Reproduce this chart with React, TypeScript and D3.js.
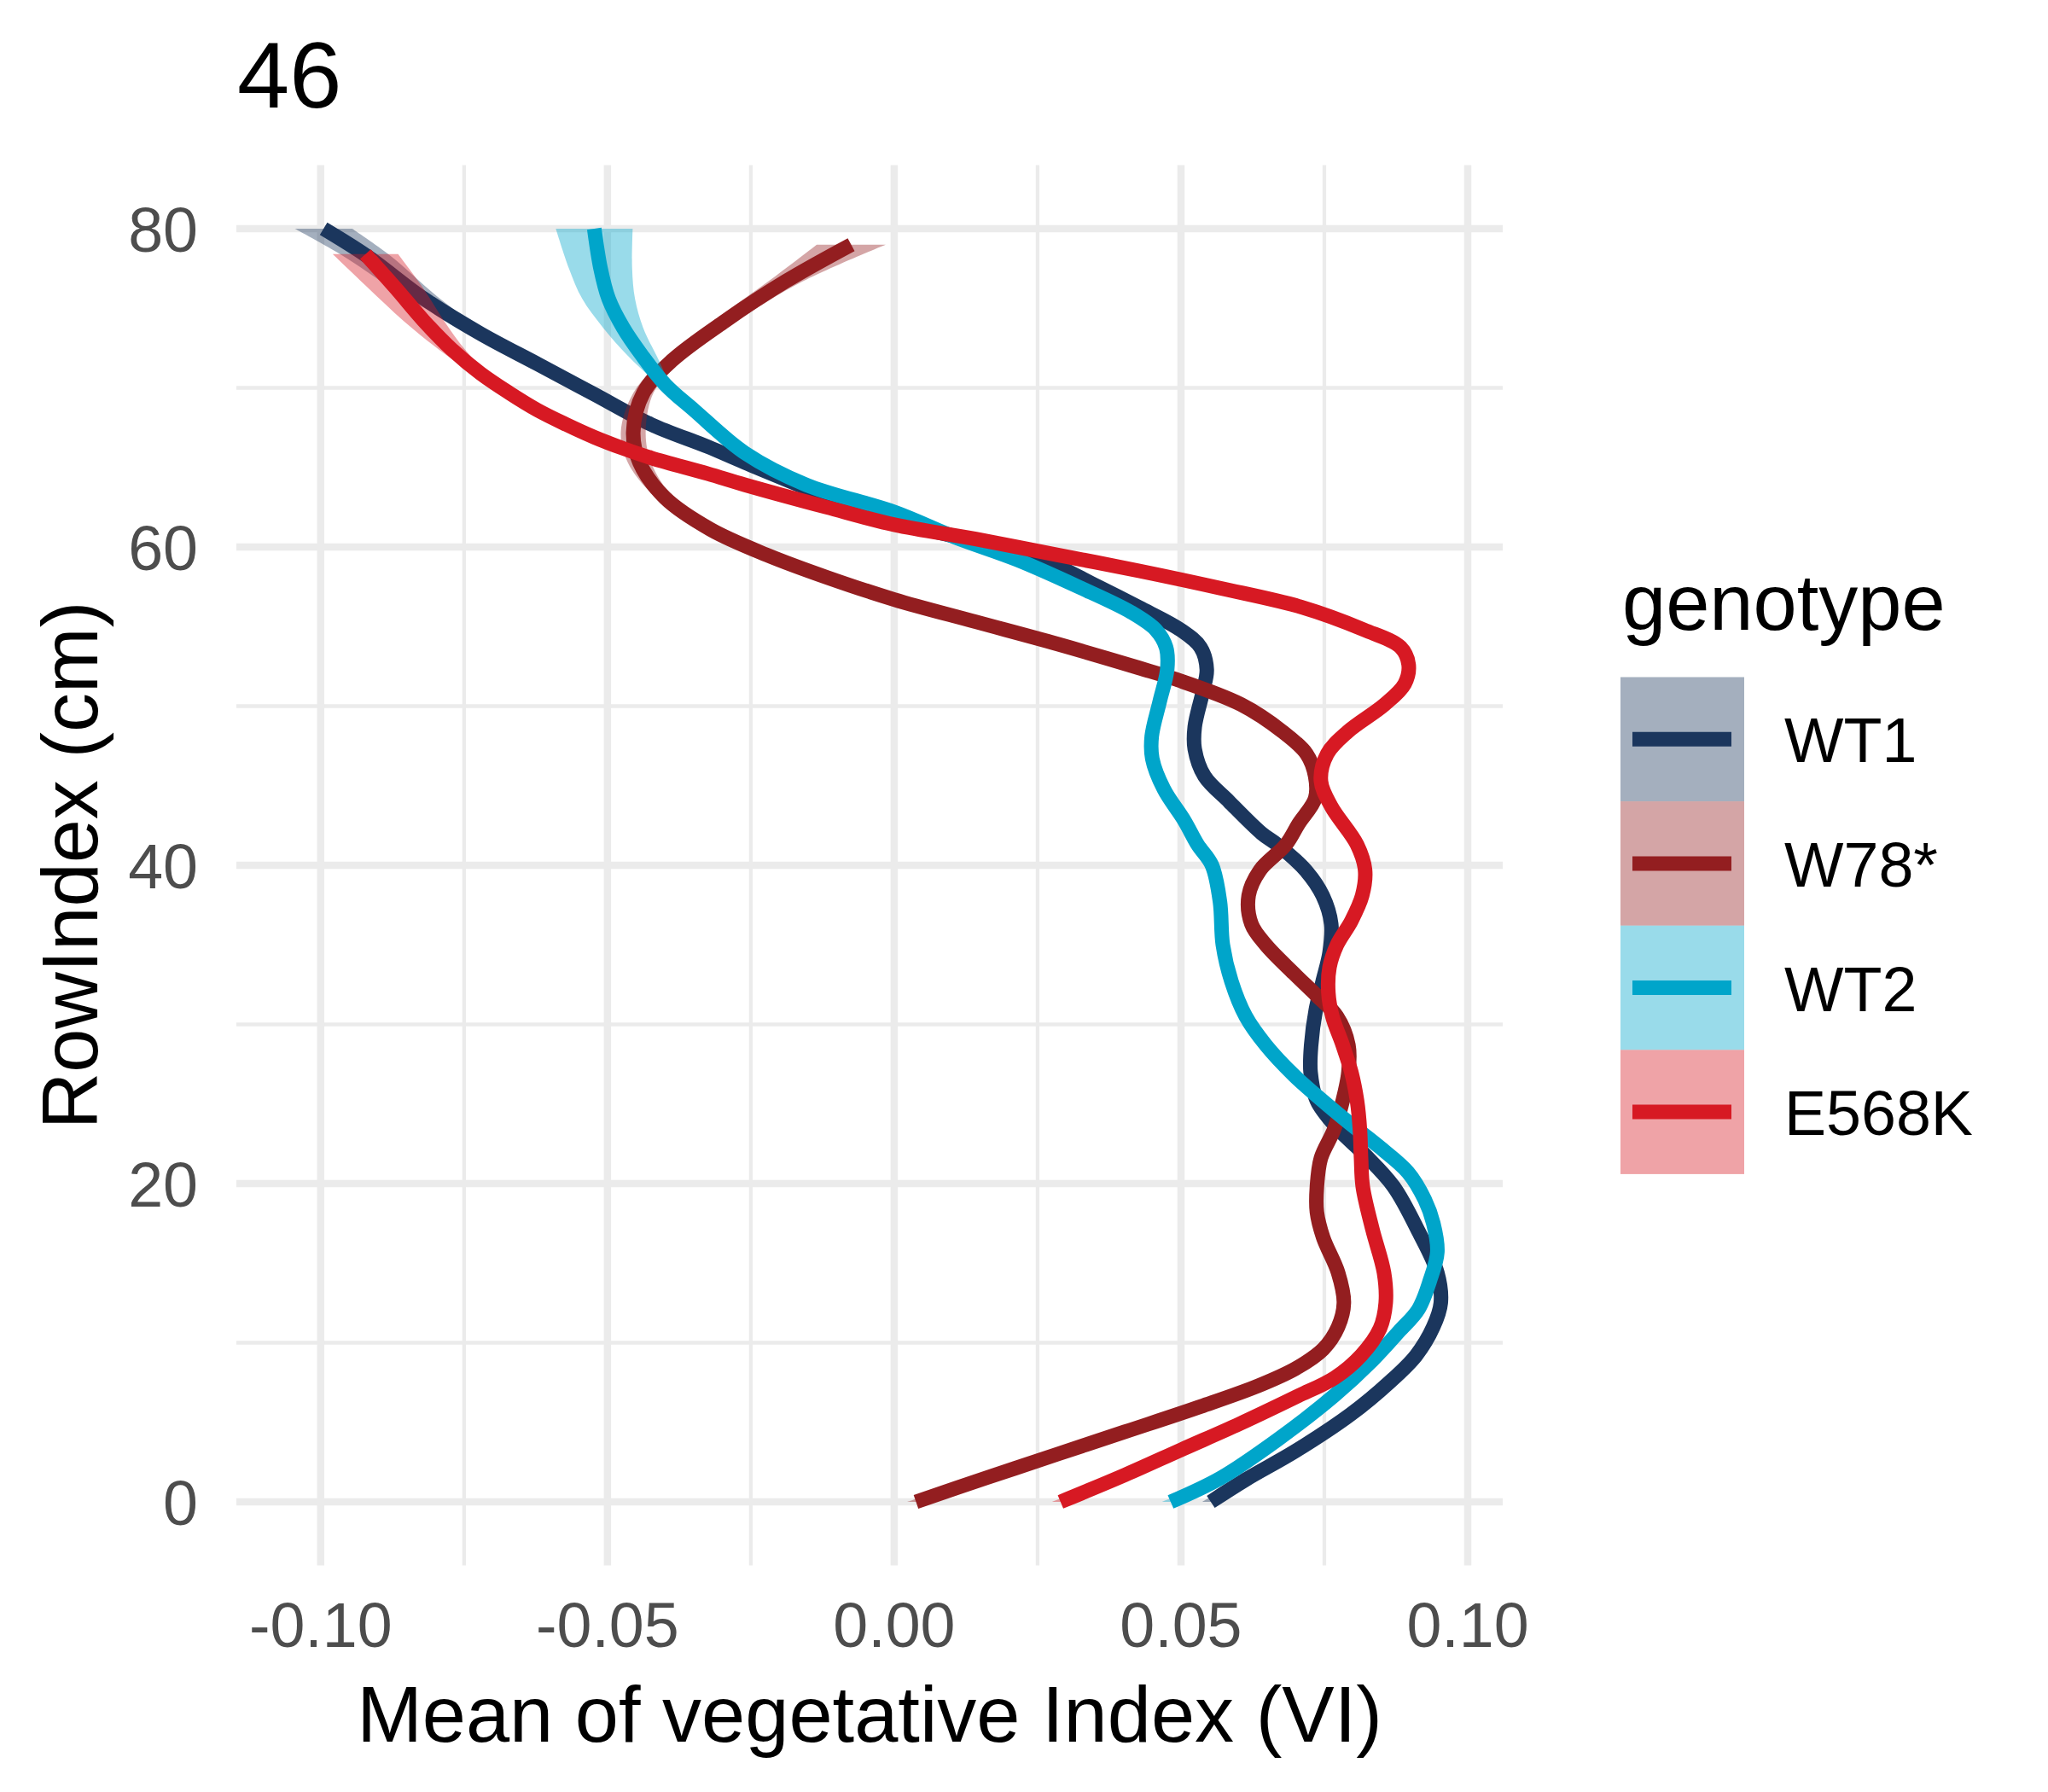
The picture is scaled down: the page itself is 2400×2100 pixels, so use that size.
import React from 'react';
import * as d3 from 'd3';

const W = 2400;
const H = 2100;

const genotypes = ['WT1', 'W78*', 'WT2', 'E568K'];
const lineColors = ['#1B365D', '#931E20', '#00A5CA', '#D71923'];

// WT1
const wt1Row = [0, 1.4, 3.2, 5.5, 7.5, 9.2, 11, 12.5, 14.4, 17, 19.8, 21.8, 23.5, 25.2, 27, 28.7, 30.9, 32.7, 34.5, 36.3, 38.1, 39.7, 41.3, 42, 44, 45.6, 47.3, 48.7, 50.9, 52.3, 53.7, 54.8, 56.2, 57.5, 59.35, 60.5, 61.5, 62.7, 65.3, 66.3, 67.7, 69.6, 71.5, 73.4, 75.6, 78.3, 80];
const wt1Vi = [0.0552, 0.0613, 0.0700, 0.0796, 0.0863, 0.0910, 0.0940, 0.0953, 0.0947, 0.0914, 0.0871, 0.0821, 0.0772, 0.0737, 0.0726, 0.0727, 0.0735, 0.0747, 0.0759, 0.0762, 0.0747, 0.0717, 0.0668, 0.0641, 0.0584, 0.0541, 0.0524, 0.0524, 0.0538, 0.0545, 0.0534, 0.0499, 0.0427, 0.0356, 0.0249, 0.0125, 0.0015, -0.0082, -0.0260, -0.0325, -0.0424, -0.0523, -0.0622, -0.0721, -0.0820, -0.0920, -0.0995];
const wt1SeRow = [0, 3, 10, 60, 70, 73, 75.6, 78, 80];
const wt1SeHalf = [0.0015, 0.0006, 0.0003, 0.0003, 0.0005, 0.0009, 0.0028, 0.004, 0.005];

// W78*
const w78Row = [0, 1.5, 3, 4.4, 6, 7.3, 8.4, 9.6, 11, 12.5, 14.4, 16.6, 18.2, 19.8, 21.6, 23.4, 25.2, 27, 28.7, 30.5, 31.8, 33.2, 35, 36.3, 38.1, 39.7, 41.3, 42.6, 44.2, 45.6, 47, 48.4, 50.1, 51.7, 52.4, 53.9, 55.3, 56.7, 58.1, 59.5, 61.1, 63.1, 65.3, 67.2, 69.7, 71.7, 74.2, 76.7, 79];
const w78Vi = [0.0038, 0.0160, 0.0285, 0.0402, 0.0535, 0.0635, 0.0701, 0.0748, 0.0774, 0.0784, 0.0774, 0.0748, 0.0737, 0.0737, 0.0744, 0.0767, 0.0782, 0.0792, 0.0792, 0.0772, 0.0737, 0.0697, 0.0648, 0.0623, 0.0618, 0.0638, 0.0683, 0.0705, 0.0734, 0.0734, 0.0719, 0.0677, 0.0605, 0.0490, 0.0427, 0.0285, 0.0142, 0.0, -0.0118, -0.0222, -0.0320, -0.0400, -0.0444, -0.0455, -0.0437, -0.0388, -0.0295, -0.0189, -0.0075];
const w78SeRow = [0, 3, 10, 56, 60, 63, 65, 67, 70, 73, 76.7, 79];
const w78SeHalf = [0.0015, 0.0006, 0.0003, 0.0004, 0.001, 0.0015, 0.002, 0.0022, 0.0017, 0.0016, 0.003, 0.006];

// WT2
const wt2Row = [0, 1.5, 3.9, 6.7, 8.9, 10.7, 12.1, 13.9, 15.7, 17.5, 19, 20.7, 22.3, 23.7, 25.2, 26.8, 28.7, 30.5, 32.7, 35, 37.7, 40, 41.3, 42.8, 44.8, 46.7, 48.1, 50.3, 52.3, 53.7, 54.8, 55.9, 57.5, 59.2, 60.6, 62.2, 63.9, 65.9, 68.6, 70.2, 72, 73.8, 75.6, 77.5, 80];
const wt2Vi = [0.0482, 0.0569, 0.0668, 0.0768, 0.0834, 0.0880, 0.0914, 0.0934, 0.0947, 0.0940, 0.0925, 0.0896, 0.0846, 0.0797, 0.0747, 0.0697, 0.0648, 0.0613, 0.0588, 0.0573, 0.0568, 0.0554, 0.0529, 0.0506, 0.0470, 0.0450, 0.0449, 0.0463, 0.0476, 0.0474, 0.0456, 0.0413, 0.0321, 0.0214, 0.0107, 0.0, -0.0153, -0.0260, -0.0349, -0.0399, -0.0439, -0.0473, -0.0498, -0.0512, -0.0523];
const wt2SeRow = [0, 3, 10, 60, 68, 70.5, 72, 73.8, 75.6, 80];
const wt2SeHalf = [0.0015, 0.0006, 0.0003, 0.0003, 0.0005, 0.0012, 0.0025, 0.0035, 0.0046, 0.0067];

// E568K
const e568Row = [0, 1.7, 3.3, 4.9, 6.6, 7.8, 9.2, 10.9, 12.5, 14.4, 17.1, 19.8, 21.6, 23.4, 25.2, 27, 28.7, 30.5, 32, 33.6, 35, 36.5, 38.1, 39.7, 41.3, 43.7, 45.3, 47, 48.4, 50.1, 51.4, 52.6, 53.7, 54.8, 56.2, 57.4, 58.5, 59.5, 60.5, 61.4, 62.5, 63.9, 64.6, 65.6, 66.2, 66.9, 67.7, 68.6, 69.7, 70.9, 72.4, 74.2, 76.3, 78.4];
const e568Vi = [0.0290, 0.0403, 0.0502, 0.0602, 0.0701, 0.0768, 0.0814, 0.0847, 0.0857, 0.0854, 0.0834, 0.0817, 0.0814, 0.0812, 0.0807, 0.0797, 0.0782, 0.0764, 0.0757, 0.0759, 0.0772, 0.0797, 0.0816, 0.0821, 0.0807, 0.0762, 0.0744, 0.0755, 0.0791, 0.0855, 0.0890, 0.0897, 0.0883, 0.0819, 0.0712, 0.0570, 0.0427, 0.0285, 0.0142, 0.0, -0.0118, -0.0260, -0.0325, -0.0424, -0.0473, -0.0523, -0.0572, -0.0622, -0.0672, -0.0721, -0.0771, -0.0820, -0.0870, -0.0922];
const e568SeRow = [0, 3, 10, 60, 68, 70, 72, 75.6, 78.4];
const e568SeHalf = [0.0015, 0.0006, 0.0003, 0.0003, 0.0006, 0.001, 0.002, 0.0045, 0.0057];

const seriesRows = [wt1Row, w78Row, wt2Row, e568Row];
const seriesVi = [wt1Vi, w78Vi, wt2Vi, e568Vi];
const seriesSeRow = [wt1SeRow, w78SeRow, wt2SeRow, e568SeRow];
const seriesSeHalf = [wt1SeHalf, w78SeHalf, wt2SeHalf, e568SeHalf];

const xMajor = [-0.1, -0.05, 0, 0.05, 0.1];
const xMajorLabels = ['-0.10', '-0.05', '0.00', '0.05', '0.10'];
const xMinor = [-0.075, -0.025, 0.025, 0.075];
const yMajor = [0, 20, 40, 60, 80];
const yMajorLabels = ['0', '20', '40', '60', '80'];
const yMinor = [10, 30, 50, 70];

const FONT = '"Liberation Sans", Arial, Helvetica, sans-serif';

export default function App() {
  const left = 277, right = 1761, top = 193.4, bottom = 1834.6;
  const x = d3.scaleLinear().domain([-0.1147, 0.1061]).range([left, right]);
  const y = d3.scaleLinear().domain([-4, 84]).range([bottom, top]);

  type P = { r: number; v: number; h: number };
  const curve = d3.curveCatmullRom.alpha(0.5);
  const lineGen = d3.line<P>().x((d) => x(d.v)).y((d) => y(d.r)).curve(curve);
  const areaGen = d3
    .area<P>()
    .y((d) => y(d.r))
    .x0((d) => x(d.v - d.h))
    .x1((d) => x(d.v + d.h))
    .curve(curve);

  const series = genotypes.map((g, i) => {
    const half = d3.scaleLinear().domain(seriesSeRow[i]).range(seriesSeHalf[i]).clamp(true);
    const pts: P[] = seriesRows[i].map((r, j) => ({ r, v: seriesVi[i][j], h: half(r) }));
    return { g, color: lineColors[i], pts };
  });

  const keyX = 1899, keyY0 = 793.5, keySize = 145.6, keyW = 145;

  return (
    <svg
      width={W}
      height={H}
      viewBox={`0 0 ${W} ${H}`}
      style={{ position: 'absolute', left: 0, top: 0, background: '#fff' }}
      fontFamily={FONT}
    >
      <rect x={0} y={0} width={W} height={H} fill="#ffffff" />
      {xMinor.map((v) => (
        <line key={'xm' + v} x1={x(v)} x2={x(v)} y1={top} y2={bottom} stroke="#EBEBEB" strokeWidth={4.3} />
      ))}
      {yMinor.map((v) => (
        <line key={'ym' + v} x1={left} x2={right} y1={y(v)} y2={y(v)} stroke="#EBEBEB" strokeWidth={4.3} />
      ))}
      {xMajor.map((v) => (
        <line key={'xM' + v} x1={x(v)} x2={x(v)} y1={top} y2={bottom} stroke="#EBEBEB" strokeWidth={8.5} />
      ))}
      {yMajor.map((v) => (
        <line key={'yM' + v} x1={left} x2={right} y1={y(v)} y2={y(v)} stroke="#EBEBEB" strokeWidth={8.5} />
      ))}

      {series.map((s) => (
        <g key={s.g}>
          <path d={areaGen(s.pts) || ''} fill={s.color} fillOpacity={0.4} stroke="none" />
          <path d={lineGen(s.pts) || ''} fill="none" stroke={s.color} strokeWidth={17} strokeLinecap="butt" strokeLinejoin="round" />
        </g>
      ))}

      {xMajor.map((v, i) => (
        <text key={'xl' + v} x={x(v)} y={1930} textAnchor="middle" fontSize={73.6} fill="#4D4D4D">
          {xMajorLabels[i]}
        </text>
      ))}
      {yMajor.map((v, i) => (
        <text key={'yl' + v} x={232} y={y(v) + 27} textAnchor="end" fontSize={73.6} fill="#4D4D4D">
          {yMajorLabels[i]}
        </text>
      ))}

      <text x={(left + right) / 2} y={2041} textAnchor="middle" fontSize={92} fill="#000">
        Mean of vegetative Index (VI)
      </text>
      <text transform={`translate(114,${(top + bottom) / 2}) rotate(-90)`} textAnchor="middle" fontSize={92} fill="#000">
        RowIndex (cm)
      </text>

      <text x={278} y={126} fontSize={110} fill="#000">
        46
      </text>

      <text x={1901} y={738} fontSize={92} fill="#000">
        genotype
      </text>
      {series.map((s, i) => {
        const ky = keyY0 + i * keySize;
        const cy = ky + keySize / 2;
        return (
          <g key={'lg' + s.g}>
            <rect x={keyX} y={ky} width={keyW} height={keySize} fill={s.color} fillOpacity={0.4} />
            <line x1={keyX + 14} x2={keyX + keyW - 15} y1={cy} y2={cy} stroke={s.color} strokeWidth={17} />
            <text x={2091} y={cy + 27} fontSize={73.6} fill="#000">
              {s.g}
            </text>
          </g>
        );
      })}
    </svg>
  );
}
